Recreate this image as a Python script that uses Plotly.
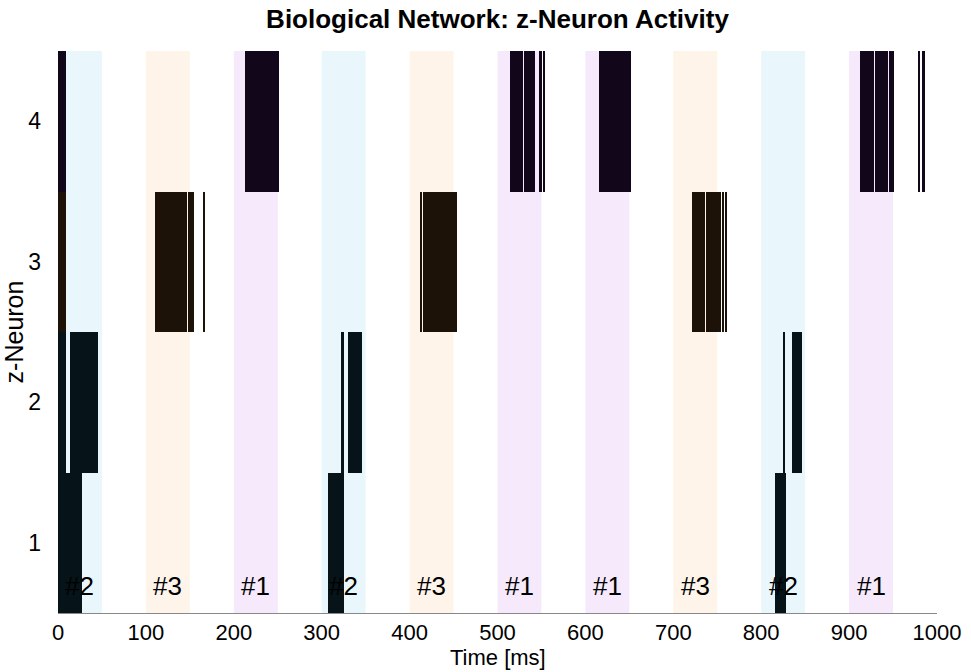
import plotly.graph_objects as go

# ---------------- data ----------------
# stimulus windows (start time, ms), each 50 ms long, and stimulus id
stim_start = [0, 100, 200, 300, 400, 500, 600, 700, 800, 900]
stim_id = [2, 3, 1, 2, 3, 1, 1, 3, 2, 1]
stim_len = 50

# spike segments per z-neuron (start ms, end ms)
n1_start = [0.0, 307.5, 816.0]
n1_end = [27.0, 325.7, 828.0]

n2_start = [0.0, 13.8, 16.8, 18.5, 20.5, 321.6, 330.0, 825.0, 834.7]
n2_end = [9.0, 15.0, 18.0, 19.8, 46.0, 325.7, 346.0, 826.4, 846.8]

n3_start = [0.0, 110.4, 114.3, 122.9, 147.9, 165.6, 411.8, 415.2, 721.0, 736.7, 745.5, 756.0, 759.1]
n3_end = [9.0, 113.7, 122.3, 147.3, 155.0, 166.8, 414.6, 453.6, 736.1, 744.9, 754.0, 757.2, 760.3]

n4_start = [0.0, 212.8, 236.7, 247.3, 514.0, 529.7, 547.6, 552.6, 615.6, 912.4, 929.3, 944.9, 978.4, 982.6]
n4_end = [9.0, 236.1, 246.7, 251.8, 529.1, 542.7, 550.2, 554.6, 651.4, 928.7, 944.3, 951.0, 979.6, 986.7]

neuron_ids = [1, 2, 3, 4]
neuron_colors = ["#06141a", "#06141a", "#1c1208", "#12061a"]
stim_colors = {1: "#f5e9fb", 2: "#e9f7fc", 3: "#fef4ea"}

# ---------------- figure ----------------
FONT = "Liberation Sans, Arial, Helvetica, sans-serif"
fig = go.Figure()

starts = [n1_start, n2_start, n3_start, n4_start]
ends = [n1_end, n2_end, n3_end, n4_end]
for nid, col, s, e in zip(neuron_ids, neuron_colors, starts, ends):
    fig.add_trace(go.Bar(
        orientation="h",
        y=[nid] * len(s),
        base=s,
        x=[b - a for a, b in zip(s, e)],
        width=1.0,
        marker=dict(color=col, line=dict(width=0)),
        showlegend=False,
        hoverinfo="skip",
    ))

for s, k in zip(stim_start, stim_id):
    fig.add_shape(type="rect", xref="x", yref="y domain",
                  x0=s, x1=s + stim_len, y0=0, y1=1,
                  fillcolor=stim_colors[k], line=dict(width=0), layer="below")
    fig.add_annotation(x=s + stim_len / 2, y=0.69, xref="x", yref="y",
                       text=f"#{k}", showarrow=False,
                       font=dict(family=FONT, size=26, color="black"))

# x axis title placed just under the tick labels
fig.add_annotation(x=0.5, y=-44 / 562, xref="paper", yref="paper",
                   xanchor="center", yanchor="middle", showarrow=False,
                   text="Time [ms]", font=dict(family=FONT, size=22, color="black"))

fig.update_layout(
    width=971, height=672,
    margin=dict(l=58, r=34, t=51, b=59),
    plot_bgcolor="white", paper_bgcolor="white",
    barmode="overlay", bargap=0,
    font=dict(family=FONT, size=22, color="black"),
    title=dict(text="<b>Biological Network: z-Neuron Activity</b>",
               x=0.5, xanchor="center", xref="paper",
               y=1 - 19 / 672, yanchor="middle", yref="container",
               font=dict(family=FONT, size=26, color="black")),
    xaxis=dict(range=[0, 1000], tickvals=[0, 100, 200, 300, 400, 500, 600, 700, 800, 900, 1000],
               showgrid=False, zeroline=False, showline=True, linecolor="#888888", linewidth=1,
               ticks="", ticklabelstandoff=0, tickfont=dict(size=22), automargin=False),
    yaxis=dict(range=[0.5, 4.5], tickvals=neuron_ids,
               showgrid=False, zeroline=False, showline=False, automargin=False,
               ticks="", ticklabelstandoff=16, tickfont=dict(size=23),
               title=dict(text="z-Neuron", standoff=4, font=dict(size=25))),
)

fig.write_html("out.html")
